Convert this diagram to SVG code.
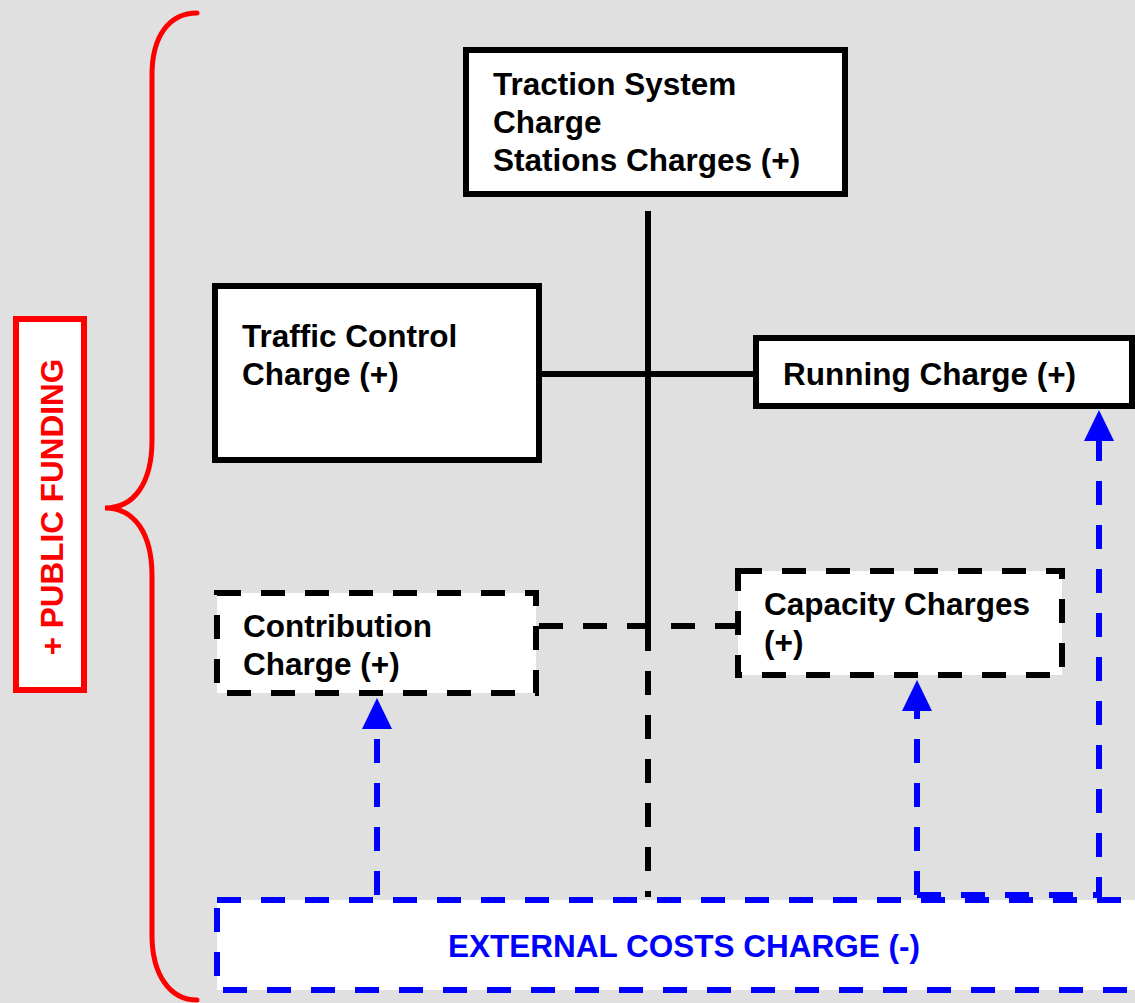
<svg xmlns="http://www.w3.org/2000/svg" width="1135" height="1003" viewBox="0 0 1135 1003">
  <style>
    .lbl { font-family: "Liberation Sans", Arial, sans-serif; font-weight: bold; font-size: 31.5px; fill: #000; }
    .box { fill: #fff; stroke: #000; stroke-width: 6; }
    .dbox { fill: #fff; stroke: #000; stroke-width: 6; stroke-dasharray: 24 20; }
    .line { fill: none; stroke: #000; stroke-width: 6; }
    .dline { fill: none; stroke: #000; stroke-width: 6; stroke-dasharray: 24 20; }
    .bline { fill: none; stroke: #0000ff; stroke-width: 6; stroke-dasharray: 24 20; }
  </style>
  <defs>
    <!-- arrowhead sits beyond the line end: base on the end point, tip 31px further -->
    <marker id="blueHead" markerUnits="userSpaceOnUse" markerWidth="32" markerHeight="32" refX="0" refY="16" orient="auto" viewBox="0 0 32 32">
      <path d="M0,1 L31,16 L0,31 Z" fill="#0000ff"/>
    </marker>
  </defs>

  <rect width="1135" height="1003" fill="#e0e0e0"/>

  <!-- public funding bracket and label -->
  <g id="funding">
    <path d="M197,13 C170,13 152,35 152,75 L152,440 C152,482 135,508 105,508 C135,508 152,534 152,576 L152,935 C152,975 170,1000 197,1000" fill="none" stroke="#ff0000" stroke-width="5" stroke-linecap="round"/>
    <rect x="16" y="319" width="68" height="371" fill="#fff" stroke="#ff0000" stroke-width="6"/>
    <text class="lbl" transform="translate(63,507) rotate(-90)" text-anchor="middle" style="fill:#ff0000">+ PUBLIC FUNDING</text>
  </g>

  <!-- connectors -->
  <g id="connectors">
    <path class="line" d="M648,211 V651"/>
    <path class="dline" d="M648,671 V897"/>
    <path class="line" d="M540,374 H755"/>
    <path class="dline" d="M539,626 H737"/>
    <path class="bline" d="M377,895 V729" marker-end="url(#blueHead)"/>
    <path class="bline" d="M917,895 V711" marker-end="url(#blueHead)"/>
    <path class="bline" d="M917,895 H1099 V441" marker-end="url(#blueHead)"/>
  </g>

  <g id="traction">
    <rect class="box" x="466" y="50" width="379" height="144"/>
    <text class="lbl" x="493" y="95">Traction System</text>
    <text class="lbl" x="493" y="133">Charge</text>
    <text class="lbl" x="493" y="171">Stations Charges (+)</text>
  </g>

  <g id="traffic">
    <rect class="box" x="215" y="286" width="324" height="174"/>
    <text class="lbl" x="242" y="347">Traffic Control</text>
    <text class="lbl" x="242" y="385">Charge (+)</text>
  </g>

  <g id="running">
    <rect class="box" x="756" y="338" width="376" height="68"/>
    <text class="lbl" x="783" y="385">Running Charge (+)</text>
  </g>

  <g id="contribution">
    <rect class="dbox" x="217" y="593" width="319" height="100"/>
    <text class="lbl" x="243" y="637">Contribution</text>
    <text class="lbl" x="243" y="675">Charge (+)</text>
  </g>

  <g id="capacity">
    <rect class="dbox" x="738" y="571" width="324" height="104"/>
    <text class="lbl" x="764" y="615">Capacity Charges</text>
    <text class="lbl" x="764" y="653">(+)</text>
  </g>

  <g id="external">
    <rect x="217" y="900" width="960" height="90" fill="#fff" stroke="#0000ff" stroke-width="6" stroke-dasharray="24 20"/>
    <text class="lbl" x="684" y="957" text-anchor="middle" style="fill:#0000ff">EXTERNAL COSTS CHARGE (-)</text>
  </g>
</svg>
